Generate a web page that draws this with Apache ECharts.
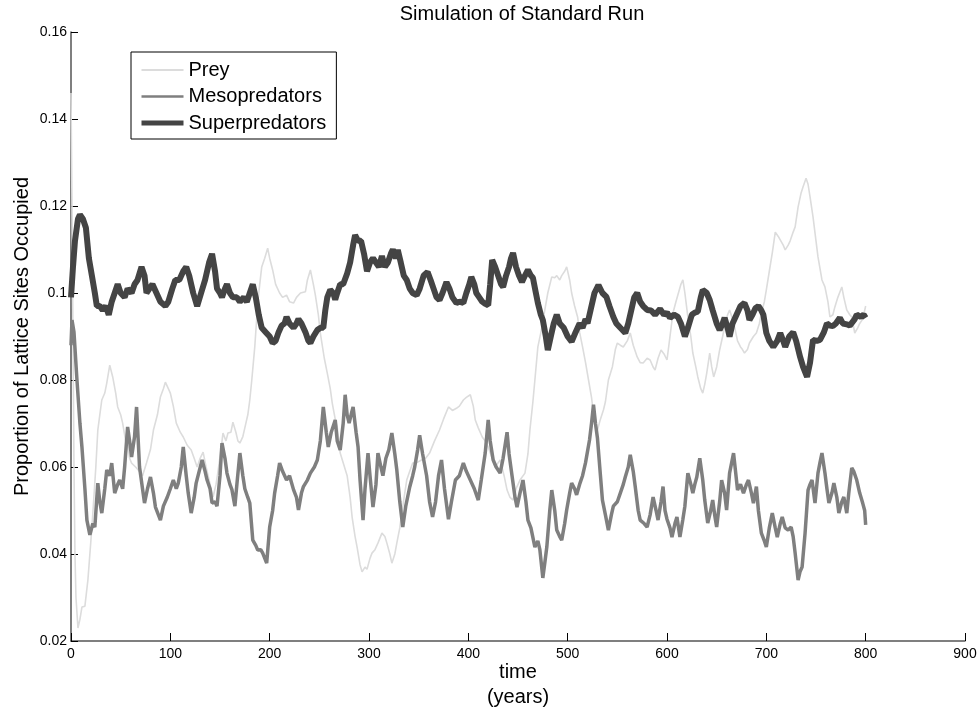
<!DOCTYPE html>
<html>
<head>
<meta charset="utf-8">
<title>Simulation of Standard Run</title>
<script src="https://cdn.jsdelivr.net/npm/echarts@6/dist/echarts.min.js"></script>
<style>
  html, body { margin: 0; padding: 0; background: #fff; }
  #chart { width: 979px; height: 711px; }
</style>
</head>
<body>
<div id="chart"></div>
<script>
// values: [time (years), proportion]
const preyData = [
  [0,0.146],[1,0.12],[2,0.09],[3,0.06],[4,0.04],[5,0.03],[7,0.023],[9,0.025],[11,0.0278],[14,0.028],
  [17,0.034],[20,0.043],[22,0.0494],[25,0.06],[27,0.0685],[29,0.072],[31,0.0754],[34,0.077],[36,0.0793],[39,0.0834],
  [42,0.0807],[45,0.077],[47,0.0738],[50,0.072],[52,0.0701],[55,0.066],[57,0.0655],[59,0.062],[61,0.0609],[65,0.06],
  [69,0.059],[72,0.058],[76,0.0609],[80,0.064],[83,0.0685],[87,0.072],[90,0.0761],[93,0.078],[95,0.0795],[98,0.078],
  [100,0.077],[103,0.074],[106,0.0701],[110,0.068],[113,0.0669],[117,0.065],[121,0.0639],[124,0.062],[127,0.06],[130,0.062],
  [133,0.0634],[136,0.06],[138,0.058],[141,0.055],[143,0.0531],[146,0.056],[148,0.059],[151,0.064],[153,0.0678],[156,0.066],
  [158,0.0678],[161,0.068],[163,0.0703],[166,0.068],[168,0.066],[170,0.0655],[173,0.067],[175,0.069],[178,0.072],[180,0.0754],
  [182,0.08],[185,0.0876],[188,0.0977],[190,0.102],[192,0.106],[195,0.108],[198,0.1103],[200,0.108],[203,0.1053],[206,0.102],
  [210,0.1],[213,0.099],[217,0.0995],[220,0.098],[224,0.0977],[227,0.099],[231,0.1],[236,0.1003],[238,0.103],[241,0.1053],
  [244,0.102],[246,0.0995],[249,0.095],[251,0.0908],[255,0.085],[258,0.0816],[261,0.078],[263,0.0747],[266,0.071],[268,0.0692],
  [271,0.0632],[274,0.061],[278,0.058],[281,0.053],[283,0.0485],[286,0.044],[288,0.0416],[291,0.0375],[293,0.0359],[296,0.037],
  [298,0.0365],[301,0.039],[303,0.0402],[306,0.041],[309,0.0425],[313,0.0448],[316,0.044],[318,0.0425],[321,0.04],[323,0.0379],
  [326,0.04],[328,0.0425],[331,0.046],[333,0.0494],[336,0.054],[338,0.057],[341,0.059],[344,0.0609],[348,0.061],[353,0.0616],
  [357,0.062],[361,0.0632],[366,0.066],[371,0.0685],[375,0.071],[380,0.0738],[384,0.073],[388,0.0735],[391,0.074],[395,0.0754],
  [398,0.076],[402,0.0766],[405,0.074],[407,0.0708],[410,0.069],[414,0.0669],[417,0.066],[420,0.0646],[424,0.062],[427,0.06],
  [432,0.0616],[436,0.058],[439,0.0547],[442,0.053],[445,0.0524],[448,0.055],[452,0.057],[457,0.0586],[460,0.063],[462,0.0685],
  [465,0.075],[467,0.08],[470,0.0876],[474,0.092],[477,0.0961],[480,0.1],[484,0.1037],[487,0.1035],[489,0.104],[492,0.103],
  [494,0.104],[497,0.105],[499,0.106],[502,0.103],[504,0.1],[507,0.097],[510,0.0945],[512,0.091],[515,0.0876],[518,0.084],
  [521,0.08],[524,0.076],[526,0.0724],[528,0.0695],[530,0.0685],[533,0.071],[536,0.0731],[538,0.075],[541,0.08],[545,0.083],
  [548,0.087],[550,0.0885],[553,0.088],[556,0.0876],[560,0.089],[563,0.0908],[566,0.088],[570,0.0853],[573,0.084],[576,0.0839],
  [580,0.085],[583,0.0846],[586,0.083],[588,0.0823],[591,0.085],[594,0.0869],[597,0.086],[600,0.0846],[603,0.09],[606,0.0954],
  [609,0.098],[611,0.0996],[614,0.102],[616,0.103],[618,0.1],[621,0.0945],[624,0.09],[626,0.0862],[629,0.083],[631,0.0807],
  [634,0.078],[636,0.077],[638,0.079],[640,0.0816],[643,0.0862],[645,0.083],[647,0.0807],[650,0.083],[653,0.0869],[656,0.09],
  [658,0.0922],[661,0.095],[663,0.0961],[666,0.094],[668,0.0922],[671,0.089],[674,0.0876],[676,0.087],[678,0.0862],[681,0.087],
  [683,0.0885],[687,0.09],[690,0.0908],[693,0.093],[695,0.0954],[698,0.098],[700,0.1007],[703,0.105],[706,0.1092],[709,0.114],
  [712,0.113],[714,0.1122],[717,0.111],[719,0.1099],[722,0.111],[724,0.112],[727,0.114],[729,0.1152],[732,0.1198],[735,0.123],
  [737,0.1244],[740,0.1264],[742,0.125],[744,0.1221],[747,0.1175],[750,0.112],[752,0.1083],[756,0.103],[759,0.1014],[762,0.098],
  [764,0.0945],[767,0.095],[769,0.0968],[772,0.099],[776,0.1014],[778,0.099],[781,0.0961],[784,0.095],[786,0.0945],[789,0.0908],
  [792,0.092],[794,0.093],[797,0.094],[800,0.097]
];

const mesoData = [
  [0,0.088],[1,0.0938],[3,0.091],[6,0.08],[9,0.07],[11,0.0646],[14,0.055],[16,0.0478],[19,0.0444],[22,0.047],
  [24,0.0462],[27,0.0563],[29,0.052],[31,0.0494],[34,0.055],[36,0.0593],[39,0.058],[41,0.0609],[44,0.054],[47,0.056],
  [49,0.057],[52,0.055],[54,0.06],[57,0.0692],[59,0.066],[61,0.0623],[64,0.067],[66,0.0738],[69,0.06],[72,0.055],
  [74,0.0517],[77,0.055],[80,0.0577],[83,0.054],[85,0.0508],[88,0.049],[90,0.0478],[93,0.051],[97,0.0531],[100,0.055],
  [103,0.057],[106,0.055],[108,0.0563],[111,0.06],[113,0.0646],[116,0.058],[118,0.054],[121,0.0494],[124,0.053],[126,0.0563],
  [129,0.059],[132,0.0616],[135,0.059],[137,0.057],[140,0.055],[142,0.0517],[145,0.052],[147,0.051],[150,0.058],[152,0.0655],
  [155,0.062],[157,0.0586],[160,0.056],[162,0.0548],[165,0.051],[167,0.056],[170,0.0632],[173,0.058],[175,0.055],[178,0.053],
  [180,0.0517],[183,0.0432],[186,0.042],[188,0.0409],[191,0.041],[193,0.0402],[195,0.04],[197,0.0379],[200,0.0462],[203,0.05],
  [205,0.054],[208,0.058],[210,0.0609],[213,0.059],[217,0.057],[220,0.058],[224,0.0548],[227,0.053],[229,0.0501],[232,0.054],
  [234,0.0555],[238,0.057],[241,0.0586],[245,0.06],[248,0.0616],[251,0.066],[254,0.0738],[257,0.068],[259,0.0646],[262,0.068],
  [266,0.0708],[268,0.066],[271,0.0639],[274,0.07],[276,0.0766],[278,0.072],[280,0.0701],[282,0.072],[284,0.0738],[287,0.068],
  [289,0.0646],[291,0.057],[294,0.0478],[296,0.055],[299,0.0632],[301,0.058],[304,0.0508],[307,0.056],[309,0.0632],[312,0.06],
  [314,0.058],[317,0.062],[320,0.064],[323,0.0678],[326,0.063],[328,0.0593],[331,0.052],[334,0.0462],[337,0.051],[341,0.0554],
  [344,0.058],[346,0.06],[349,0.064],[351,0.0673],[354,0.063],[358,0.058],[361,0.052],[364,0.0485],[367,0.052],[370,0.058],
  [373,0.0616],[376,0.055],[380,0.048],[383,0.052],[387,0.057],[391,0.058],[395,0.0609],[398,0.059],[402,0.057],[406,0.055],
  [410,0.0524],[413,0.057],[417,0.0632],[420,0.0708],[422,0.066],[425,0.0616],[428,0.06],[432,0.0586],[435,0.062],[439,0.068],
  [441,0.063],[444,0.058],[447,0.053],[449,0.0508],[452,0.054],[455,0.057],[458,0.052],[460,0.0478],[463,0.046],[467,0.0416],
  [470,0.043],[472,0.041],[475,0.0345],[477,0.038],[479,0.0416],[482,0.05],[484,0.0547],[487,0.05],[489,0.0455],[492,0.044],
  [494,0.0432],[497,0.047],[499,0.0501],[502,0.054],[504,0.0563],[507,0.055],[509,0.0536],[512,0.056],[515,0.058],[518,0.061],
  [522,0.0662],[524,0.07],[526,0.0743],[528,0.07],[530,0.0666],[533,0.058],[535,0.0524],[538,0.049],[541,0.0455],[544,0.049],
  [546,0.051],[550,0.052],[553,0.054],[556,0.056],[558,0.0577],[561,0.06],[563,0.0628],[566,0.059],[568,0.0555],[571,0.05],
  [573,0.0478],[577,0.047],[580,0.0462],[583,0.049],[586,0.0531],[589,0.05],[591,0.0478],[594,0.052],[596,0.0555],[598,0.05],
  [600,0.048],[603,0.046],[605,0.0439],[608,0.047],[610,0.0485],[613,0.0439],[616,0.048],[618,0.051],[621,0.0586],[624,0.056],
  [626,0.054],[628,0.056],[630,0.0577],[633,0.062],[636,0.057],[638,0.0524],[641,0.0471],[644,0.05],[646,0.0524],[648,0.049],
  [650,0.0462],[653,0.052],[655,0.057],[658,0.054],[660,0.0501],[663,0.0586],[667,0.0632],[669,0.059],[671,0.0547],[674,0.056],
  [677,0.054],[680,0.056],[682,0.057],[685,0.054],[687,0.0517],[690,0.0555],[692,0.05],[695,0.0448],[698,0.043],[700,0.0416],
  [703,0.046],[706,0.0494],[709,0.046],[711,0.0439],[714,0.047],[716,0.0485],[719,0.046],[722,0.0455],[725,0.0462],[727,0.044],
  [729,0.0402],[732,0.034],[734,0.036],[736,0.037],[739,0.0448],[742,0.0547],[744,0.056],[746,0.057],[749,0.0517],[752,0.0586],
  [754,0.061],[756,0.0632],[759,0.0586],[761,0.055],[763,0.0517],[766,0.054],[768,0.0563],[771,0.053],[773,0.0494],[776,0.052],
  [778,0.0531],[781,0.0494],[783,0.054],[786,0.0598],[788,0.059],[791,0.057],[794,0.054],[797,0.0517],[799,0.05],[800,0.0467]
];

const superData = [
  [0,0.099],[2,0.106],[4,0.112],[7,0.117],[9,0.118],[12,0.117],[15,0.115],[18,0.108],[21,0.104],[24,0.1],
  [26,0.097],[29,0.097],[32,0.096],[35,0.097],[38,0.095],[41,0.098],[44,0.1],[47,0.102],[50,0.1],[54,0.099],
  [57,0.101],[61,0.1],[64,0.102],[67,0.103],[71,0.106],[74,0.104],[76,0.1],[79,0.101],[82,0.102],[86,0.1],
  [90,0.098],[95,0.097],[98,0.098],[102,0.101],[105,0.103],[109,0.103],[113,0.105],[116,0.106],[119,0.104],[123,0.1],
  [127,0.097],[131,0.1],[135,0.103],[139,0.107],[142,0.109],[145,0.105],[147,0.101],[150,0.1],[152,0.099],[155,0.101],
  [157,0.102],[160,0.1],[163,0.099],[167,0.099],[170,0.098],[174,0.099],[177,0.098],[180,0.1],[183,0.102],[186,0.099],
  [189,0.095],[192,0.092],[196,0.091],[200,0.09],[203,0.0885],[206,0.089],[209,0.091],[212,0.0925],[215,0.093],[217,0.0945],
  [220,0.093],[224,0.092],[227,0.093],[229,0.094],[232,0.093],[236,0.091],[239,0.089],[241,0.0885],[244,0.09],[248,0.0915],
  [251,0.092],[254,0.092],[256,0.096],[258,0.099],[261,0.1007],[264,0.1],[266,0.0985],[268,0.1],[271,0.102],[274,0.102],
  [278,0.1045],[281,0.107],[284,0.111],[286,0.1133],[289,0.112],[292,0.112],[295,0.109],[298,0.105],[301,0.107],[304,0.108],
  [307,0.107],[310,0.106],[313,0.1085],[316,0.106],[319,0.107],[322,0.109],[324,0.11],[327,0.108],[329,0.1099],[332,0.107],
  [335,0.104],[338,0.103],[341,0.101],[344,0.1],[348,0.0995],[351,0.101],[355,0.104],[359,0.1048],[362,0.103],[365,0.101],
  [368,0.099],[371,0.0984],[374,0.1],[378,0.1025],[381,0.101],[384,0.099],[388,0.0977],[391,0.098],[395,0.0977],[398,0.1],
  [401,0.102],[403,0.1037],[406,0.102],[408,0.1],[411,0.099],[414,0.098],[417,0.0975],[420,0.0972],[422,0.102],[424,0.1076],
  [427,0.106],[430,0.104],[433,0.102],[435,0.1014],[438,0.104],[441,0.106],[443,0.108],[445,0.1092],[448,0.106],[451,0.104],
  [454,0.1025],[457,0.104],[460,0.1053],[463,0.104],[465,0.1035],[468,0.1],[470,0.0977],[473,0.095],[475,0.0938],[478,0.09],
  [480,0.0869],[483,0.09],[486,0.093],[489,0.095],[492,0.093],[496,0.092],[500,0.09],[504,0.0888],[508,0.091],[512,0.093],
  [515,0.092],[518,0.094],[520,0.093],[523,0.096],[527,0.1],[531,0.1018],[535,0.1],[539,0.0991],[542,0.097],[546,0.0945],
  [549,0.093],[553,0.092],[558,0.0908],[561,0.093],[564,0.096],[567,0.099],[570,0.1],[573,0.098],[576,0.097],[580,0.0961],
  [584,0.096],[588,0.095],[593,0.0963],[597,0.095],[600,0.0955],[603,0.0943],[607,0.095],[611,0.0945],[614,0.093],[618,0.09],
  [621,0.092],[625,0.095],[628,0.0955],[631,0.0957],[634,0.099],[636,0.1007],[640,0.1],[643,0.0984],[646,0.096],[650,0.093],
  [653,0.0915],[656,0.093],[658,0.0943],[661,0.092],[663,0.09],[666,0.093],[670,0.095],[674,0.097],[678,0.0977],[681,0.096],
  [683,0.0938],[686,0.095],[689,0.0965],[692,0.097],[695,0.096],[697,0.095],[700,0.0908],[703,0.089],[707,0.0876],[711,0.089],
  [714,0.0908],[717,0.089],[719,0.0876],[723,0.09],[727,0.091],[730,0.089],[734,0.0853],[737,0.083],[741,0.0807],[744,0.084],
  [747,0.0892],[751,0.089],[754,0.0892],[758,0.091],[761,0.093],[764,0.0925],[767,0.0924],[770,0.093],[774,0.0943],[777,0.093],
  [781,0.0928],[784,0.0925],[786,0.0922],[789,0.094],[791,0.095],[795,0.0945],[798,0.095],[800,0.0943]
];

const seriesNames = ["Prey", "Mesopredators", "Superpredators"];
const seriesColors = ["#dcdcdc", "#7f7f7f", "#444444"];
const seriesWidths = [1.6, 3.5, 6];

const FONT = 'Arial, "Liberation Sans", sans-serif';

const chart = echarts.init(document.getElementById("chart"));

function lineSeries(i, data) {
  return {
    name: seriesNames[i],
    type: "line",
    data: data,
    symbol: "none",
    showSymbol: false,
    smooth: false,
    lineStyle: { color: seriesColors[i], width: seriesWidths[i] },
    itemStyle: { color: seriesColors[i] },
    emphasis: { disabled: true },
  };
}

chart.setOption({
  animation: false,
  backgroundColor: "#fff",
  textStyle: { fontFamily: FONT },
  title: {
    text: "Simulation of Standard Run",
    left: 517,
    top: -1,
    textAlign: "center",
    textStyle: { fontSize: 20, fontWeight: "normal", color: "#000", fontFamily: FONT },
  },
  grid: { left: 71, right: 14, top: 32, bottom: 70, containLabel: false, outerBoundsMode: "none" },
  legend: {
    data: seriesNames.map((name, i) => ({
      name: name,
      lineStyle: { width: Math.max(2, seriesWidths[i] - 1), color: seriesColors[i] },
    })),
    orient: "vertical",
    left: 131,
    top: 52,
    itemWidth: 42,
    itemHeight: 18,
    itemGap: 6.5,
    padding: [8, 10, 6, 8],
    borderColor: "#000",
    borderWidth: 1,
    backgroundColor: "#fff",
    selectedMode: false,
    // hide the circle marker, keep only the line sample
    itemStyle: { opacity: 0 },
    textStyle: { fontSize: 20, color: "#000", fontFamily: FONT },
  },
  xAxis: {
    type: "value",
    min: 0,
    max: 900,
    interval: 100,
    name: "time\n(years)",
    nameLocation: "middle",
    nameGap: 19,
    nameMoveOverlap: false,
    nameTextStyle: { fontSize: 20, color: "#000", lineHeight: 25, fontFamily: FONT },
    axisLine: { show: true, lineStyle: { color: "#555", width: 1.5 } },
    axisTick: { show: true, inside: true, length: 8, lineStyle: { color: "#000" } },
    axisLabel: { fontSize: 14, color: "#000", margin: 6, fontFamily: FONT },
    splitLine: { show: false },
  },
  yAxis: {
    type: "value",
    min: 0.02,
    max: 0.16,
    interval: 0.02,
    name: "Proportion of Lattice Sites Occupied",
    nameLocation: "middle",
    nameGap: 39,
    nameMoveOverlap: false,
    nameTextStyle: { fontSize: 20, color: "#000", fontFamily: FONT },
    axisLine: { show: true, lineStyle: { color: "#555", width: 1.5 } },
    axisTick: { show: true, inside: true, length: 7, lineStyle: { color: "#000" } },
    axisLabel: {
      fontSize: 14,
      color: "#000",
      margin: 4,
      fontFamily: FONT,
      formatter: (v) => String(parseFloat(v.toFixed(2))),
    },
    splitLine: { show: false },
  },
  series: [
    lineSeries(0, preyData),
    lineSeries(1, mesoData),
    lineSeries(2, superData),
  ],
});
</script>
</body>
</html>
